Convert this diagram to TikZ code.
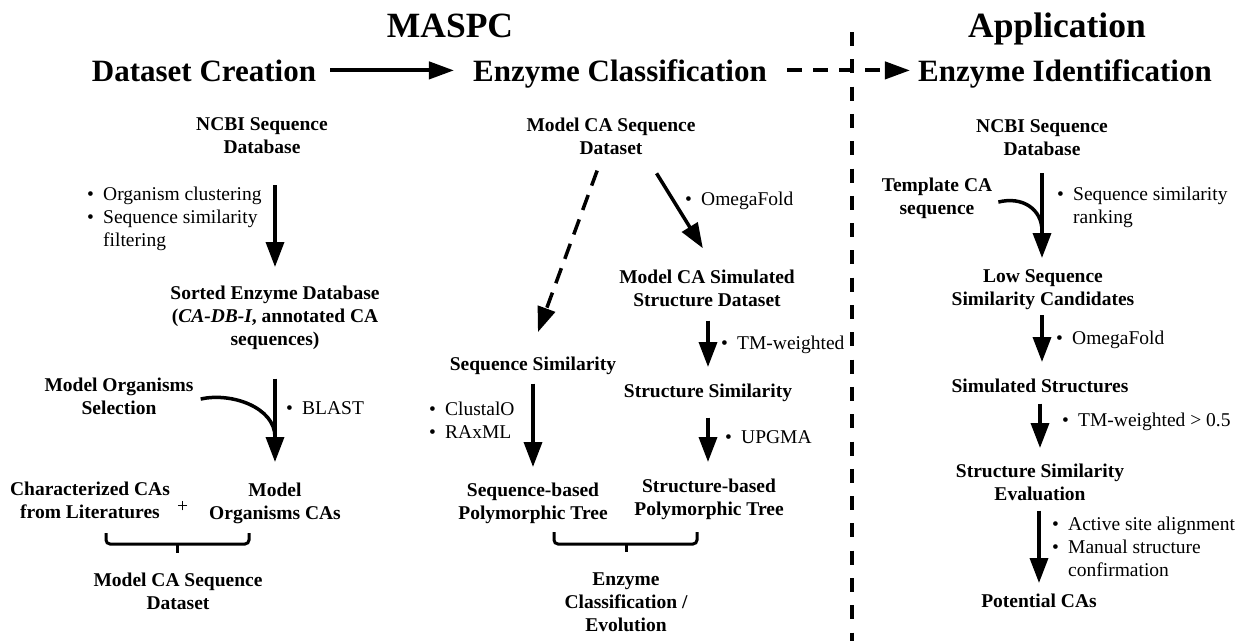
\documentclass[tikz,border=0pt]{standalone}
\usepackage{fontspec}
\setmainfont{Liberation Serif}
\usepackage{tikz}
\usetikzlibrary{arrows.meta}

\newcommand{\bul}{\makebox[16pt][l]{\textbullet}}

\begin{document}
\begin{tikzpicture}[x=1pt, y=-1pt,
	box/.style={font=\bfseries\fontsize{19.5}{23}\selectfont, align=center, inner sep=0pt, anchor=north},
	note/.style={font=\fontsize{19.5}{23}\selectfont, align=left, inner sep=0pt, anchor=north west},
	head/.style={font=\bfseries\fontsize{31}{36}\selectfont, inner sep=0pt, anchor=base},
	title/.style={font=\bfseries\fontsize{35.5}{40}\selectfont, inner sep=0pt, anchor=base},
	arr/.style={-{Triangle[length=25pt,width=18pt]}, line width=3.5pt},
	harr/.style={-{Triangle[length=25pt,width=17pt]}, line width=4pt},
	curv/.style={line width=3.5pt},
	brk/.style={line width=3pt, rounded corners=4pt},
	sepline/.style={line width=4pt, dash pattern=on 14pt off 13.3pt}]
				\useasboundingbox (0,0) rectangle (1240,641);
				
				\node[title] (maspc) at (450,37) {MASPC};
				\node[title] (appl) at (1057,37) {Application};
				\node[head] (dsc) at (204,81) {Dataset Creation};
				\node[head] (ecl) at (620,81) {Enzyme Classification};
				\node[head] (eid) at (1065,81) {Enzyme Identification};
				
				\draw[harr, shorten <=14pt, shorten >=19pt] (dsc.east) -- (dsc.east -| ecl.west);
				\draw[harr, dash pattern=on 15pt off 11pt, shorten <=20pt, shorten >=8pt] (ecl.east |- dsc.east) -- (dsc.east -| eid.west);
				\draw[sepline] (852,32) -- (852,641);
				
				\node[box] (ncbiL) at (262,117.5) {NCBI Sequence\\Database};
				\node[note] (orgnote) at (87,186.5) {\bul Organism clustering\\\bul Sequence similarity\\\hspace*{16pt}filtering};
				\node[box] (sortdb) at (275,285.5) {Sorted Enzyme Database\\(\textit{CA-DB-I}, annotated CA\\sequences)};
				\node[box] (mos) at (119,377.5) {Model Organisms\\Selection};
				\node[note] (blast) at (286,401.5) {\bul BLAST};
				\node[box] (charlit) at (90,481.5) {Characterized CAs\\from Literatures};
				\node[font=\fontsize{19.5}{23}\selectfont, inner sep=0pt] (plus) at (182.5,507) {+};
				\node[box] (moc) at (275,482.5) {Model\\Organisms CAs};
				\node[box] (mcsL) at (178,572.5) {Model CA Sequence\\Dataset};
				\coordinate (mgL) at (275,437);
				
				\draw[arr, shorten <=31pt, shorten >=18.5pt] (ncbiL.south -| sortdb.north) -- (sortdb.north);
				\draw[arr, shorten <=29pt, shorten >=20.5pt] (sortdb.south -| moc.north) -- (moc.north);
				\draw[curv] ([xshift=7pt,yshift=-3pt]mos.east) .. controls +(30,-7) and +(0,-30) .. (mgL);
				\draw[brk] (106,533) -- (106,544) -- (249,544) -- (249,533);
				\draw[brk] (177,544) -- (177,553);
				
				\node[box] (mcsM) at (611,117.5) {Model CA Sequence\\Dataset};
				\node[note] (omegaM) at (685,191.5) {\bul OmegaFold};
				\node[box] (mcsim) at (707,269.5) {Model CA Simulated\\Structure Dataset};
				\node[note] (tmM) at (721,335.5) {\bul TM-weighted};
				\node[box] (structsim) at (708,383.5) {Structure Similarity};
				\node[note] (upgma) at (725,430.5) {\bul UPGMA};
				\node[box] (sbtree) at (709,478.5) {Structure-based\\Polymorphic Tree};
				\node[box] (seqsim) at (533,356.5) {Sequence Similarity};
				\node[note] (clustal) at (429,401.5) {\bul ClustalO\\\bul RAxML};
				\node[box] (seqtree) at (533,482.5) {Sequence-based\\Polymorphic Tree};
				\node[box] (evo) at (626,572.5) {Enzyme\\Classification /\\Evolution};
				
				\draw[arr, dash pattern=on 16pt off 10pt, shorten <=17pt, shorten >=26pt] ([xshift=-8pt]mcsM.south) -- ([xshift=-4pt]seqsim.north);
				\draw[arr, shorten <=22pt, shorten >=25pt] ([xshift=34pt]mcsM.south) -- ([xshift=9pt]mcsim.north);
				\draw[arr, shorten <=14pt, shorten >=16.5pt] (mcsim.south -| structsim.north) -- (structsim.north);
				\draw[arr, shorten <=16pt, shorten >=16.5pt] (structsim.south) -- (structsim.south |- sbtree.north);
				\draw[arr, shorten <=9pt, shorten >=15.5pt] (seqsim.south) -- (seqtree.north);
				\draw[brk] (554,532) -- (554,544) -- (697,544) -- (697,532);
				\draw[brk] (626,544) -- (626,552);
				
				\node[box] (ncbiR) at (1042,119.5) {NCBI Sequence\\Database};
				\node[box] (tmpl) at (937,177.5) {Template CA\\sequence};
				\node[note] (rank) at (1057,186.5) {\bul Sequence similarity\\\hspace*{16pt}ranking};
				\node[box] (lowseq) at (1043,269.5) {Low Sequence\\Similarity Candidates};
				\node[note] (omegaR) at (1056,330.5) {\bul OmegaFold};
				\node[box] (simstruct) at (1040,378.5) {Simulated Structures};
				\node[note] (tmR) at (1062,412.5) {\bul TM-weighted > 0.5};
				\node[box] (sse) at (1040,463.5) {Structure Similarity\\Evaluation};
				\node[note] (active) at (1052,516.5) {\bul Active site alignment\\\bul Manual structure\\\hspace*{16pt}confirmation};
				\node[box] (potca) at (1039,593.5) {Potential CAs};
				\coordinate (mgR) at (1042,231);
				
				\draw[arr, shorten <=17pt, shorten >=11.5pt] (ncbiR.south) -- (ncbiR.south |- lowseq.north);
				\draw[curv] ([xshift=6pt,yshift=-4pt]tmpl.east) .. controls +(24,-6) and +(0,-22) .. (mgR);
				\draw[arr, shorten <=5pt, shorten >=16.5pt] (lowseq.south -| ncbiR.south) -- (ncbiR.south |- simstruct.north);
				\draw[arr, shorten <=11pt, shorten >=15.5pt] (simstruct.south) -- (sse.north);
				\draw[arr, shorten <=10pt, shorten >=10.5pt] (sse.south -| potca.north) -- (potca.north);
			\end{tikzpicture}
\end{document}
